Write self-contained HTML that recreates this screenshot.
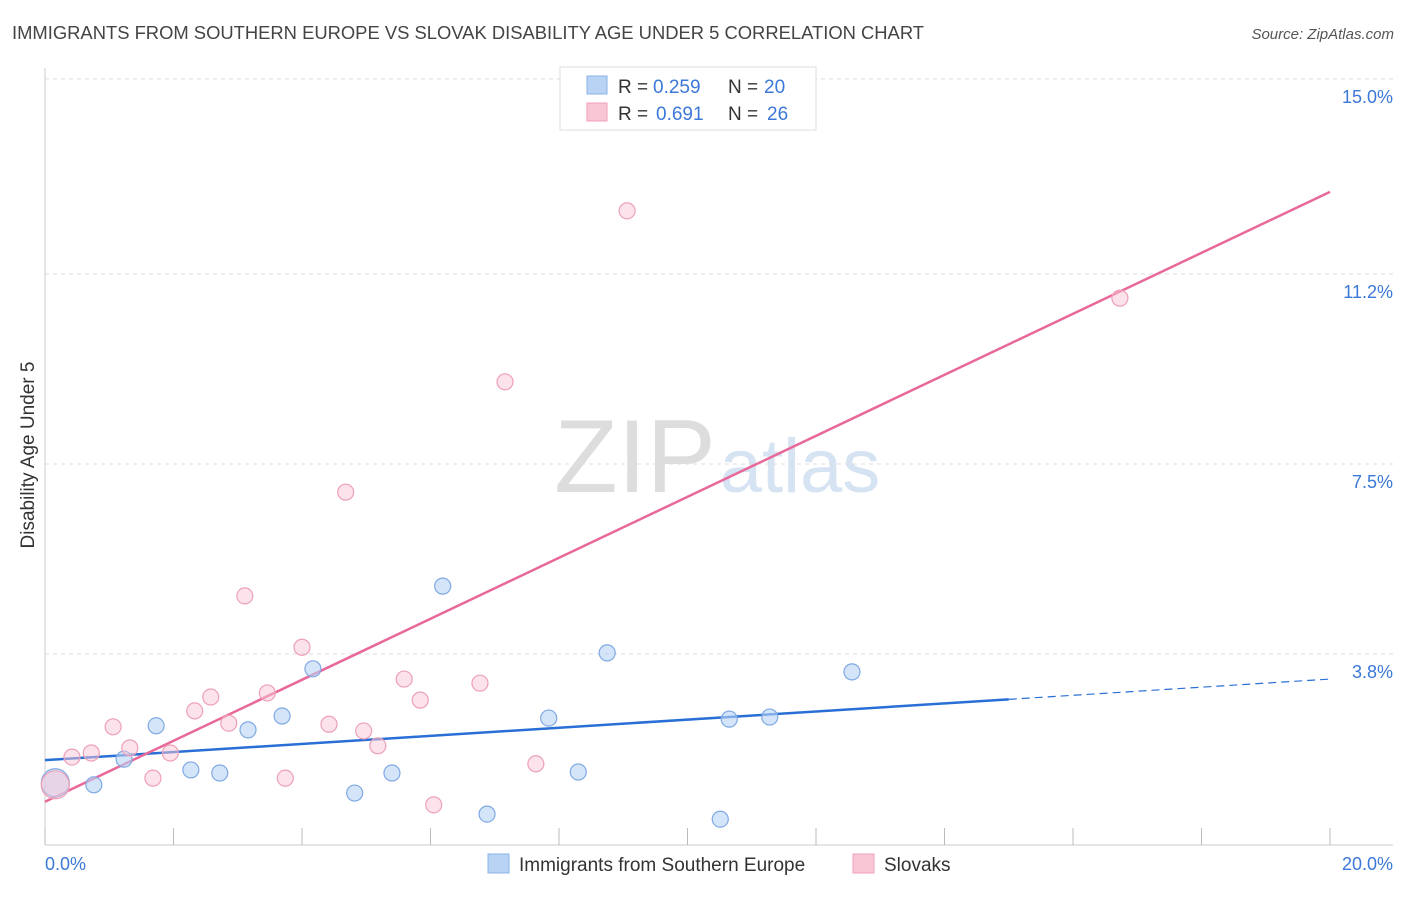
<!DOCTYPE html>
<html><head><meta charset="utf-8"><style>
body{margin:0;background:#fff;font-family:"Liberation Sans",sans-serif;}
svg text{font-family:"Liberation Sans",sans-serif;}
</style></head><body>
<svg id="c" width="1406" height="892" xmlns="http://www.w3.org/2000/svg">
<text x="12" y="39" font-size="18.4" fill="#444" textLength="912">IMMIGRANTS FROM SOUTHERN EUROPE VS SLOVAK DISABILITY AGE UNDER 5 CORRELATION CHART</text>
<text x="1394" y="39" font-size="15" fill="#555" font-style="italic" text-anchor="end">Source: ZipAtlas.com</text>
<text x="34" y="455" font-size="19" fill="#333" text-anchor="middle" transform="rotate(-90 34 455)">Disability Age Under 5</text>
<g><text x="635" y="492" font-size="104" fill="#ddd" font-family="Liberation Serif" text-anchor="middle">ZIP</text><text x="800" y="492" font-size="76" fill="#d5e3f3" text-anchor="middle">atlas</text></g>
<g id="grid"></g><g id="lines"></g><g id="pts"></g>
<g>
<rect x="560" y="67" width="256" height="63" fill="#fff" stroke="#ddd"/>
<rect x="587" y="76" width="20" height="18" fill="#b9d3f5" stroke="#8ab3e8"/>
<text x="618" y="93" font-size="19" fill="#333">R =</text><text x="653" y="93" font-size="19" fill="#3b78d8">0.259</text>
<text x="728" y="93" font-size="19" fill="#333">N =</text><text x="764" y="93" font-size="19" fill="#3b78d8">20</text>
<rect x="587" y="103" width="20" height="18" fill="#f9c6d5" stroke="#f0a0b8"/>
<text x="618" y="120" font-size="19" fill="#333">R =</text><text x="656" y="120" font-size="19" fill="#3b78d8">0.691</text>
<text x="728" y="120" font-size="19" fill="#333">N =</text><text x="767" y="120" font-size="19" fill="#3b78d8">26</text>
</g>
<g>
<rect x="488" y="854" width="21" height="19" fill="#b9d3f5" stroke="#8ab3e8"/>
<text x="519" y="871" font-size="19" fill="#333">Immigrants from Southern Europe</text>
<rect x="853" y="854" width="21" height="19" fill="#f9c6d5" stroke="#f0a0b8"/>
<text x="884" y="871" font-size="19" fill="#333">Slovaks</text>
</g>
<text x="45" y="870" font-size="18" fill="#3b78d8">0.0%</text>
<text x="1393" y="870" font-size="18" fill="#3b78d8" text-anchor="end">20.0%</text>
</svg>
<script>
const yTicks=[3.8,7.5,11.2,15.0];
const yTickLabels=["3.8%","7.5%","11.2%","15.0%"];
const blueX=[0.16,0.76,1.23,1.73,2.27,2.72,3.16,3.69,4.17,4.82,5.40,6.19,6.88,7.84,8.30,8.75,10.51,10.65,11.28,12.56];
const blueY=[1.29,1.25,1.75,2.40,1.54,1.48,2.32,2.59,3.51,1.09,1.48,5.12,0.68,2.55,1.50,3.82,0.58,2.53,2.57,3.45];
const pinkX=[0.16,0.42,0.72,1.06,1.32,1.68,1.95,2.33,2.58,2.86,3.11,3.46,3.74,4.00,4.42,4.68,4.96,5.18,5.59,5.84,6.05,6.77,7.16,7.64,9.06,16.73];
const pinkY=[1.25,1.79,1.87,2.38,1.97,1.38,1.87,2.69,2.96,2.45,4.93,3.04,1.38,3.93,2.43,6.95,2.30,2.01,3.31,2.90,0.86,3.23,9.10,1.66,12.43,10.73];
const blueTrend=[1.73,3.31];
const pinkTrend=[0.92,12.8];
const NS="http://www.w3.org/2000/svg";
const sx=v=>45+v*64.25, sy=v=>849-v*51.34;
function mk(t,a,p){const e=document.createElementNS(NS,t);for(const k in a)e.setAttribute(k,a[k]);p.appendChild(e);return e;}
const g=document.getElementById('grid');
yTicks.forEach((t,i)=>{
 const l=mk('line',{x1:45,x2:1393,y1:sy(t),y2:sy(t),stroke:'#ddd','stroke-dasharray':'4,4'},g);
 
 
 const tx=mk('text',{x:1393,y:sy(t)+24,'font-size':18,fill:'#3b78d8','text-anchor':'end'},g);
 tx.textContent=yTickLabels[i];
 
 
});
mk('line',{x1:45,x2:45,y1:68,y2:845,stroke:'#ccc'},g);
mk('line',{x1:45,x2:1393,y1:845,y2:845,stroke:'#ccc'},g);
for(let i=0;i<=10;i++){const t=mk('line',{x1:sx(i*2),x2:sx(i*2),y1:828,y2:845,stroke:'#bbb'},g);
 
 }
const L=document.getElementById('lines');
const bEnd=15.0;
const bl=mk('line',{x1:sx(0),y1:sy(blueTrend[0]),x2:sx(bEnd),y2:sy(blueTrend[0]+(blueTrend[1]-blueTrend[0])*bEnd/20),stroke:'#2a6fd6','stroke-width':2.5},L);


const bd=mk('line',{x1:sx(bEnd),y1:sy(blueTrend[0]+(blueTrend[1]-blueTrend[0])*bEnd/20),x2:sx(20),y2:sy(blueTrend[1]),stroke:'#2a6fd6','stroke-width':1.2,'stroke-dasharray':'8,5'},L);


const pl=mk('line',{x1:sx(0),y1:sy(pinkTrend[0]),x2:sx(20),y2:sy(pinkTrend[1]),stroke:'#e8689a','stroke-width':2.5},L);


const P=document.getElementById('pts');
blueX.forEach((x,i)=>{const c=mk('circle',{cx:sx(x),cy:sy(blueY[i]),r:i==0?14:8,fill:'#b9d3f5','fill-opacity':0.6,stroke:'#7fa9e3','stroke-width':1.2},P);
 
 });
pinkX.forEach((x,i)=>{const c=mk('circle',{cx:sx(x),cy:sy(pinkY[i]),r:i==0?14:8,fill:'#f9c6d5','fill-opacity':0.5,stroke:'#eda0b8','stroke-width':1.2},P);
 
 });
</script>
</body></html>
